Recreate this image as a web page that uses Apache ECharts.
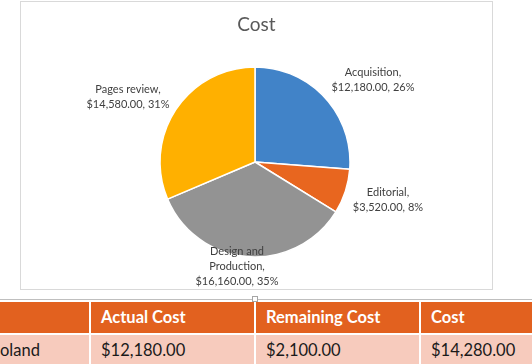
<!DOCTYPE html>
<html>
<head>
<meta charset="utf-8">
<script src="https://cdn.jsdelivr.net/npm/echarts@6/dist/echarts.min.js"></script>
<style>
  html, body { margin: 0; padding: 0; width: 532px; height: 364px; overflow: hidden; background: #fff; font-family: Lato, 'Open Sans', sans-serif; }
  #chart { position: absolute; left: 20px; top: 1px; width: 473px; height: 289px; box-sizing: border-box; border: 1px solid #d9d9d9; }
  .rule { position: absolute; left: 0; top: 299px; width: 532px; height: 1px; background: #bfbfbf; }
  .handle { position: absolute; left: 252px; top: 296px; width: 6px; height: 6px; box-sizing: border-box; border: 1px solid #a6a6a6; background: #fff; }
  .cell { position: absolute; box-sizing: border-box; padding-left: 10px; font-size: 16.5px; line-height: 30px; white-space: nowrap; overflow: hidden; }
  .head { top: 302px; height: 31px; background: #e2611f; color: #fff; font-weight: bold; }
  .row { top: 335px; height: 29px; background: #f7cbbd; color: #1a1a1a; line-height: 30px; }
</style>
</head>
<body>
<div id="chart"></div>
<div class="rule"></div>
<div id="table"></div>
<div class="handle"></div>
<script>
// 饼图数据（从 12 点方向顺时针）
const categories = ['Acquisition', 'Editorial', 'Design and Production', 'Pages review']
const costs = [12180, 3520, 16160, 14580]
const colors = ['#4183c8', '#e8661f', '#939393', '#ffb000']

// 下方表格
const tableHeaders = ['', 'Actual Cost', 'Remaining Cost', 'Cost']
const tableRow = ['oland', '$12,180.00', '$2,100.00', '$14,280.00']

// 标签位置（相对图表容器）
const labelPos = [[352, 78], [367, 198], [216, 264], [107, 95]]

function money(v) {
  return '$' + v.toLocaleString('en-US', { minimumFractionDigits: 2, maximumFractionDigits: 2 })
}

const chart = echarts.init(document.getElementById('chart'))
chart.setOption({
  animation: false,
  title: {
    text: 'Cost',
    left: 'center',
    top: 8,
    textStyle: { fontFamily: 'Lato', fontSize: 19, fontWeight: 'normal', color: '#595959' },
  },
  series: [
    {
      type: 'pie',
      center: [234, 160],
      radius: 95,
      startAngle: 90,
      clockwise: true,
      percentPrecision: 0,
      data: categories.map((name, i) => ({ name, value: costs[i], itemStyle: { color: colors[i] } })),
      itemStyle: { borderColor: '#fff', borderWidth: 1.5 },
      label: {
        show: true,
        position: 'outside',
        fontFamily: 'Lato',
        fontSize: 11,
        lineHeight: 15,
        color: '#404040',
        align: 'center',
        formatter: (p) => p.name.replace(' Production', '\nProduction') + ',\n' + money(p.value) + ', ' + p.percent + '%',
      },
      labelLine: { show: false },
      labelLayout: (params) => {
        const pos = labelPos[params.dataIndex]
        return { x: pos[0], y: pos[1], align: 'center', verticalAlign: 'middle' }
      },
      emphasis: { disabled: true },
    },
  ],
})

// 表格（列边界）
const colEdges = [0, 91, 256, 421, 532]
const tableEl = document.getElementById('table')
function addRow(cells, cls) {
  cells.forEach((text, i) => {
    const d = document.createElement('div')
    d.className = 'cell ' + cls
    d.style.left = colEdges[i] + 'px'
    d.style.width = (colEdges[i + 1] - colEdges[i] - (i < cells.length - 1 ? 2 : 0)) + 'px'
    if (i === 0) d.style.paddingLeft = '0px'
    d.textContent = text
    tableEl.appendChild(d)
  })
}
addRow(tableHeaders, 'head')
addRow(tableRow, 'row')
</script>
</body>
</html>
